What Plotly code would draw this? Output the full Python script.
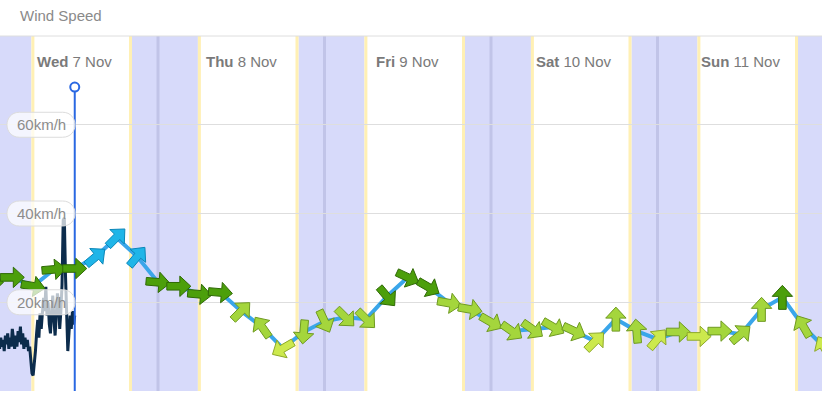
import math
import pandas as pd
import plotly.graph_objects as go

# ---------------- data ----------------
title_text = "Wind Speed"

forecast_times = pd.date_range("2018-11-07 00:00", "2018-11-12 00:00", freq="3h")
forecast_speed = [24.5, 25.6, 23.6, 27.4, 27.6, 30.2, 34.6, 30.3,
                  24.5, 23.6, 21.8, 22.2, 18.0, 14.4, 9.6, 13.3,
                  15.7, 16.6, 16.2, 21.3, 25.6, 23.4, 19.8, 18.4,
                  15.5, 13.5, 13.9, 14.4, 13.5, 11.2, 16.2, 13.5,
                  11.7, 13.3, 12.3, 13.5, 12.8, 18.4, 21.1, 14.6,
                  9.9]
# direction the arrow points on screen (degrees, counter-clockwise from east)
forecast_arrow_angle = [0, 0, -10, 5, 0, 40, 45, 50,
                        -5, 0, -5, -5, 45, 125, 210, 265,
                        -65, -45, -45, -50, -25, -30, -10, -10,
                        -30, -35, -35, -30, -25, 45, 90, 95,
                        50, 0, 0, 0, 40, 90, 90, 120,
                        120]

observed_times = pd.date_range("2018-11-07 01:00", "2018-11-07 12:00", freq="10min")
observed_speed = [11, 9.5, 12, 10, 11.5,
                  9, 12.5, 10.5, 13, 9.5,
                  12, 10, 14, 11, 9.5,
                  12.5, 10, 13.5, 11, 14.5,
                  10.5, 13, 9.5, 12, 10,
                  11.5, 9, 10, 7, 4,
                  3.5, 6, 9, 13, 16,
                  12, 17.5, 14, 19, 21,
                  18, 23.5, 17, 20, 15,
                  13, 18, 21.5, 16, 12.5,
                  17, 22, 20, 14, 18,
                  24, 38.5, 39, 26, 15,
                  9, 13, 17, 14, 18,
                  15, 17]

now_time = "2018-11-07 12:00"
now_marker_value = 68.5

day_label_times = ["2018-11-07 12:00", "2018-11-08 12:00", "2018-11-09 12:00",
                   "2018-11-10 12:00", "2018-11-11 12:00"]
day_label_weekday = ["Wed", "Thu", "Fri", "Sat", "Sun"]
day_label_date = ["7 Nov", "8 Nov", "9 Nov", "10 Nov", "11 Nov"]

sunsets = ["2018-11-06 20:15", "2018-11-07 20:15", "2018-11-08 20:15",
           "2018-11-09 20:15", "2018-11-10 20:15", "2018-11-11 20:15"]
sunrises = ["2018-11-07 05:45", "2018-11-08 05:45", "2018-11-09 05:45",
            "2018-11-10 05:45", "2018-11-11 05:45", "2018-11-12 05:45"]
midnights = ["2018-11-07 00:00", "2018-11-08 00:00", "2018-11-09 00:00",
             "2018-11-10 00:00", "2018-11-11 00:00", "2018-11-12 00:00"]

y_tick_values = [20, 40, 60]
y_tick_labels = ["20km/h", "40km/h", "60km/h"]

x_range = ["2018-11-07 01:13:30", "2018-11-11 23:42:36"]
y_range = [0, 80]

# ---------------- styles ----------------
FONT = "Liberation Sans, Arial, sans-serif"

# arrow glyph outline (pixels, pointing east, centred on the data point)
ARROW_GLYPH = [(-12, 3.8), (1, 3.8), (1, 10.2), (12, 0), (1, -10.2), (1, -3.8), (-12, -3.8)]


def arrow_colors(v):
    if v >= 29.5:
        return "#1fb5e8", "#0b86b8"
    if v > 20.5:
        return "#4c9f0b", "#2f6a05"
    if v >= 12.5:
        return "#a4d63c", "#6f9a22"
    return "#cce94d", "#8fa92a"


def arrow_path(angle_deg):
    c, s = math.cos(math.radians(angle_deg)), math.sin(math.radians(angle_deg))
    pts = [(px * c - py * s, px * s + py * c) for px, py in ARROW_GLYPH]
    return "M" + " L".join("%.2f,%.2f" % p for p in pts) + " Z"


fig = go.Figure()

fig.add_trace(go.Scatter(x=forecast_times, y=forecast_speed, mode="lines",
                         line=dict(color="#3aa6ea", width=4), hoverinfo="skip",
                         showlegend=False))
fig.add_trace(go.Scatter(x=observed_times, y=observed_speed, mode="lines",
                         line=dict(color="#0c2c4c", width=3), hoverinfo="skip",
                         showlegend=False))
fig.add_trace(go.Scatter(x=[now_time, now_time], y=[0, now_marker_value], mode="lines",
                         line=dict(color="#2a68e2", width=2), hoverinfo="skip",
                         showlegend=False))
fig.add_trace(go.Scatter(x=[now_time], y=[now_marker_value], mode="markers",
                         marker=dict(size=9, color="white",
                                     line=dict(color="#2a68e2", width=2)),
                         hoverinfo="skip", showlegend=False, cliponaxis=False))

shapes = []
# night bands
for s, r in zip(sunsets, sunrises):
    shapes.append(dict(type="rect", xref="x", yref="y", x0=s, x1=r, y0=y_range[0], y1=y_range[1],
                       fillcolor="#d7dafa", line=dict(width=0), layer="below"))
    shapes.append(dict(type="rect", xref="x", yref="y", xsizemode="pixel", xanchor=s,
                       x0=-3, x1=0, y0=y_range[0], y1=y_range[1],
                       fillcolor="#fff0b4", line=dict(width=0), layer="below"))
    shapes.append(dict(type="rect", xref="x", yref="y", xsizemode="pixel", xanchor=r,
                       x0=0, x1=3, y0=y_range[0], y1=y_range[1],
                       fillcolor="#fff0b4", line=dict(width=0), layer="below"))
for m in midnights:
    shapes.append(dict(type="line", xref="x", yref="y", x0=m, x1=m, y0=y_range[0], y1=y_range[1],
                       line=dict(color="#c1c4e8", width=3), layer="below"))

# wind direction arrows, anchored on each forecast point
for t, v, ang in zip(forecast_times, forecast_speed, forecast_arrow_angle):
    fill, edge = arrow_colors(v)
    shapes.append(dict(type="path", xref="x", yref="y", xsizemode="pixel", ysizemode="pixel",
                       xanchor=t.strftime("%Y-%m-%d %H:%M:%S"), yanchor=v,
                       path=arrow_path(ang), fillcolor=fill,
                       line=dict(color=edge, width=1), layer="above"))

# top separator
shapes.append(dict(type="line", xref="paper", yref="paper", x0=0, x1=1, y0=1, y1=1,
                   line=dict(color="#dedede", width=1), layer="above"))
# rounded label pills
pill_path = ("M19.5,-12.5 H62.5 C79.2,-12.5 79.2,12.5 62.5,12.5 "
             "H19.5 C2.8,12.5 2.8,-12.5 19.5,-12.5 Z")
for v in y_tick_values:
    shapes.append(dict(type="path", xref="paper", yref="y", xsizemode="pixel", ysizemode="pixel",
                       xanchor=0, yanchor=v, path=pill_path,
                       fillcolor="rgba(255,255,255,0.72)",
                       line=dict(color="#dcdcdc", width=1), layer="above"))

annotations = []
for v, lab in zip(y_tick_values, y_tick_labels):
    annotations.append(dict(xref="paper", yref="y", x=0, y=v, xanchor="center", yanchor="middle",
                            xshift=41, text=lab, showarrow=False,
                            font=dict(family=FONT, size=15, color="#8c8c8c")))
for t, wd, dt in zip(day_label_times, day_label_weekday, day_label_date):
    annotations.append(dict(xref="x", yref="paper", x=t, y=(391 - 61) / 355,
                            xanchor="center", yanchor="middle",
                            text="<b>%s</b> %s" % (wd, dt), showarrow=False,
                            font=dict(family=FONT, size=15, color="#7a7a7a")))

fig.update_layout(
    width=822, height=397,
    margin=dict(l=0, r=0, t=36, b=6),
    paper_bgcolor="white", plot_bgcolor="white",
    title=dict(text=title_text, x=20 / 822, xanchor="left", y=1 - 16 / 397, yanchor="middle",
               xref="container", yref="container",
               font=dict(family=FONT, size=15, color="#8a8a8a")),
    xaxis=dict(range=x_range, showgrid=False, showticklabels=False, zeroline=False,
               showline=False, ticks=""),
    yaxis=dict(range=y_range, tickvals=y_tick_values, showticklabels=False, showgrid=True,
               gridcolor="#dedede", gridwidth=1, zeroline=False, showline=False, ticks=""),
    shapes=shapes,
    annotations=annotations,
    showlegend=False,
    hovermode=False,
)

fig.write_html("out.html", config={"displayModeBar": False})
